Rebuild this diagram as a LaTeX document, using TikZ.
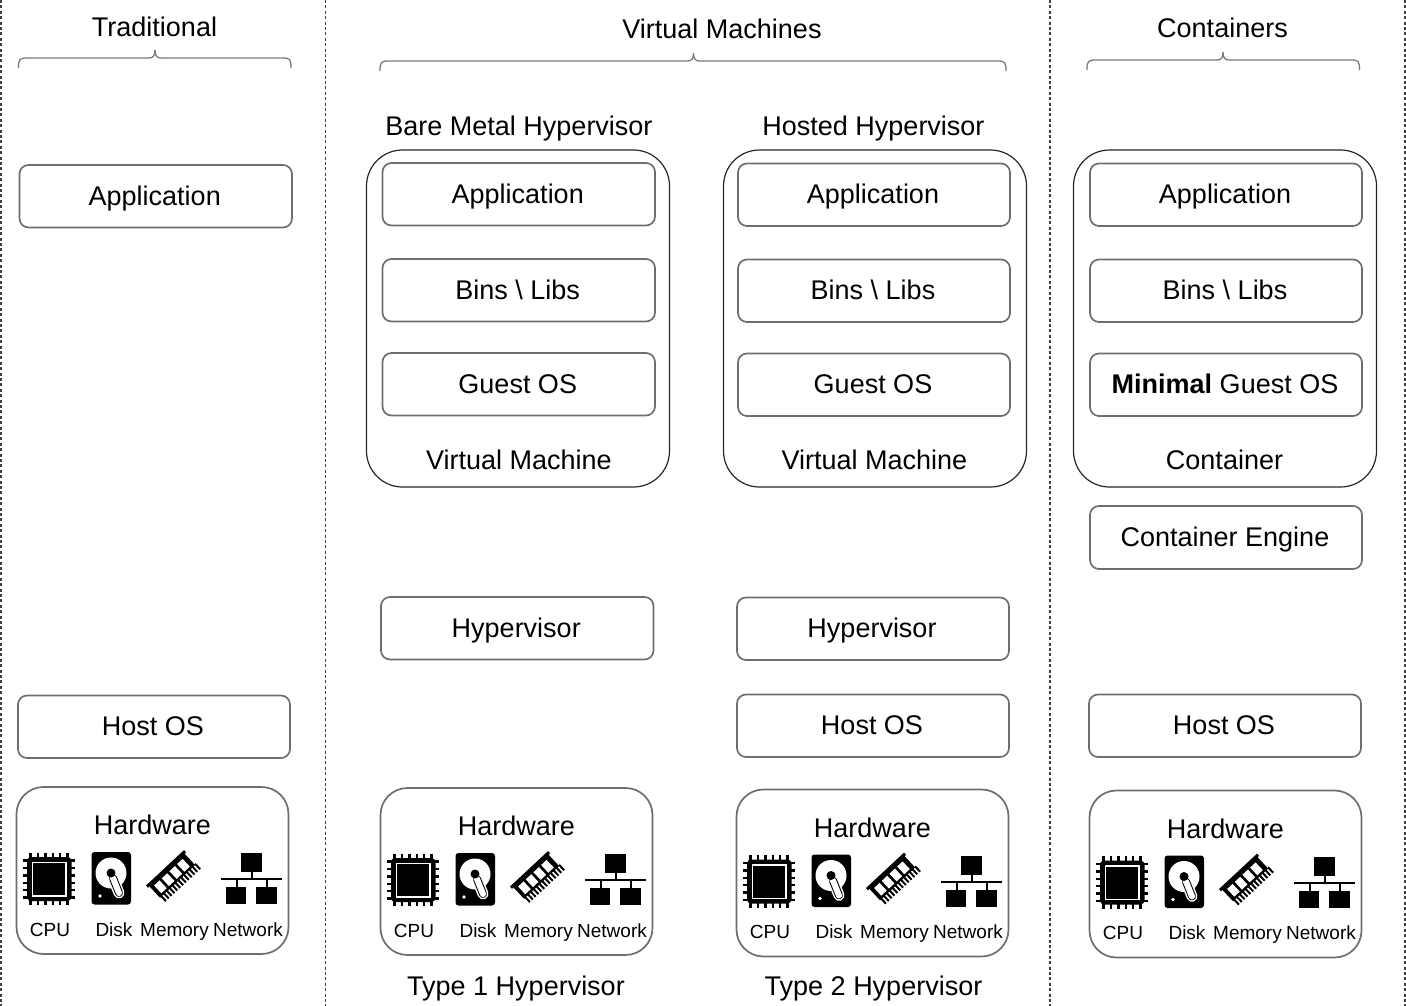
\documentclass[tikz,border=0pt]{standalone}
\usepackage{fontspec}
\setmainfont{Liberation Sans}
\definecolor{boxgray}{HTML}{6E6E6E}
\definecolor{bracegray}{HTML}{7A7A7A}
\tikzset{
  lbl/.style={inner sep=0pt,outer sep=0pt,text height=23.5pt,text depth=5.7pt,font=\fontsize{27}{32}\selectfont},
  smalllbl/.style={inner sep=0pt,outer sep=0pt,text height=14pt,text depth=0pt,font=\fontsize{19}{23}\selectfont},
  layerbox/.style={lbl,draw=boxgray,line width=1.7pt,rounded corners=9pt},
  hwbox/.style={inner sep=0pt,outer sep=0pt,draw=boxgray,line width=1.7pt,rounded corners=27pt,minimum width=272pt,minimum height=167pt},
  vmbox/.style={inner sep=0pt,outer sep=0pt,draw=black!85,line width=1.2pt,rounded corners=36pt,minimum width=303pt,minimum height=337pt},
  sepline/.style={draw=black!75,line width=1.1pt,dash pattern=on 3pt off 2.4pt},
  bracket/.style={draw=bracegray,line width=1.3pt}
}
\newcommand{\lay}[7][0]{%name x1 y1 x2 y2 text
  \node[layerbox,minimum width={(#5-#3)*1pt},minimum height={(#6-#4)*1pt}] (#2) at ({(#3+#5)/2},{(#4+#6)/2}) {\hspace*{#1pt}#7};}
\newcommand{\hwset}[3]{%
  \begin{scope}[shift={(#2,#3)}]
    \node[hwbox] (#1box) at (152.5,870.5) {};
    \node[lbl] (#1title) at (152.5,826) {Hardware};
    \node[smalllbl] (#1cpu) at (50,929) {CPU};
    \node[smalllbl] (#1disk) at (114,929) {Disk};
    \node[smalllbl] (#1mem) at (174.5,929) {Memory};
    \node[smalllbl] (#1net) at (248,929) {Network};
    % CPU
    \foreach \t in {0,...,5} {
      \fill ({30.5+\t*7.4-1.2},852.5) rectangle ({30.5+\t*7.4+1.2},905);
      \fill (22.5,{860.5+\t*7.4-1.2}) rectangle (75,{860.5+\t*7.4+1.2});
    }
    \fill[rounded corners=4pt] (27,857) rectangle (71.5,901);
    \draw[white,line width=1.4pt] (32.5,862.5) rectangle (66,896);
    % Disk
    \fill[rounded corners=3pt] (91.5,852) rectangle (131,904.5);
    \fill[white] (111,873) circle (15.5pt);
    \draw[white,line width=11pt,line cap=round] (113,878) -- (119,893);
    \draw[black,line width=8pt,line cap=round] (113,878) -- (119,893);
    \draw[white,line width=6pt,line cap=round] (113,878) -- (119,893);
    \fill (111,873) circle (4.5pt);
    \fill[white] (100,896) circle (1.8pt);
    % Memory
    \begin{scope}[shift={(173.5,877)},rotate=43]
      \fill (-26,-12.5) rectangle (26,-9.5);
      \fill (-24,-10) rectangle (24,6);
      \foreach \t in {0,...,3} \fill[white] ({-20+\t*10.5},-7) rectangle ({-12.5+\t*10.5},3.5);
      \foreach \t in {0,...,12} \fill ({-23+\t*3.9},5) rectangle ({-21+\t*3.9},12.5);
    \end{scope}
    % Network
    \fill (241,853) rectangle (262,872);
    \fill (251,872) rectangle (252.5,879);
    \fill (221,878) rectangle (282,880);
    \fill (236,880) rectangle (237.5,887);
    \fill (266,880) rectangle (267.5,887);
    \fill (226,887) rectangle (246,904);
    \fill (256,887) rectangle (277,904);
  \end{scope}}
\newcommand{\brc}[5]{%name left midx right topy
  \coordinate (#1L) at (#2,#5+10);
  \coordinate (#1M) at (#3,#5-8);
  \coordinate (#1R) at (#4,#5+10);
  \draw[bracket] (#1L) .. controls (#2,#5+1) and (#2+1,#5) .. (#2+9,#5)
     -- (#3-6,#5) .. controls (#3-2,#5) and (#3,#5-2) .. (#1M)
     .. controls (#3,#5-2) and (#3+2,#5) .. (#3+6,#5)
     -- (#4-9,#5) .. controls (#4-1,#5) and (#4,#5+1) .. (#1R);}
\begin{document}
\begin{tikzpicture}[x=1pt,y=-1pt]
\useasboundingbox (0,0) rectangle (1406,1006);
% separators
\foreach \n/\x in {a/1,b/325.5,c/1050,d/1405}{
  \coordinate (sep\n t) at (\x,0);
  \coordinate (sep\n b) at (\x,1006);
  \draw[sepline] (sep\n t) -- (sep\n b);
}
% titles
\node[lbl] (ttrad) at (154.5,28) {Traditional};
\node[lbl] (tvm) at (722,30) {Virtual Machines};
\node[lbl] (tcont) at (1222.5,29) {Containers};
\node[lbl] (tbare) at (519,127) {Bare Metal Hypervisor};
\node[lbl] (thost) at (873.5,127) {Hosted Hypervisor};
\node[lbl] (ttype1) at (516,987) {Type 1 Hypervisor};
\node[lbl] (ttype2) at (873.5,987) {Type 2 Hypervisor};
% braces
\brc{btrad}{18.5}{155}{291}{58}
\brc{bvm}{380}{693.5}{1006}{61}
\brc{bcont}{1087}{1223}{1359.5}{60}
% VM outlines
\node[vmbox] (vm1) at (518,318.5) {};
\node[vmbox] (vm2) at (875,318.5) {};
\node[vmbox] (vm3) at (1225,318.5) {};
\node[lbl] (vm1l) at (519,461) {Virtual Machine};
\node[lbl] (vm2l) at (874.5,461) {Virtual Machine};
\node[lbl] (vm3l) at (1224.5,461) {Container};
% traditional
\lay[-2]{tapp}{19.5}{165}{292}{227.5}{Application}
\lay[-2]{thos}{18}{695.5}{290}{758}{Host OS}
% VM 1
\lay[-2]{aapp}{382.5}{163}{655}{225.5}{Application}
\lay[-2]{abin}{382.5}{259}{655}{321.5}{Bins \textbackslash{} Libs}
\lay[-2]{agst}{382.5}{353}{655}{415.5}{Guest OS}
\lay[-2]{ahyp}{381}{597}{653.5}{659.5}{Hypervisor}
% VM 2
\lay[-2]{bapp}{738}{163.5}{1010}{226}{Application}
\lay[-2]{bbin}{738}{259.5}{1010}{322}{Bins \textbackslash{} Libs}
\lay[-2]{bgst}{738}{353.5}{1010}{416}{Guest OS}
\lay[-2]{bhyp}{737}{597.5}{1009}{660}{Hypervisor}
\lay[-2]{bhos}{737}{694.5}{1009}{757}{Host OS}
% Containers
\lay[-2]{capp}{1090}{163.5}{1362}{226}{Application}
\lay[-2]{cbin}{1090}{259.5}{1362}{322}{Bins \textbackslash{} Libs}
\lay[-2]{cgst}{1090}{353.5}{1362}{416}{\textbf{Minimal} Guest OS}
\lay[-2]{ceng}{1090}{506}{1362}{569}{Container Engine}
\lay[-2]{chos}{1089}{694.5}{1361}{757}{Host OS}
% hardware
\hwset{ha}{0}{0}
\hwset{hb}{364}{1}
\hwset{hc}{720}{2.5}
\hwset{hd}{1073}{3.5}
\end{tikzpicture}
\end{document}
